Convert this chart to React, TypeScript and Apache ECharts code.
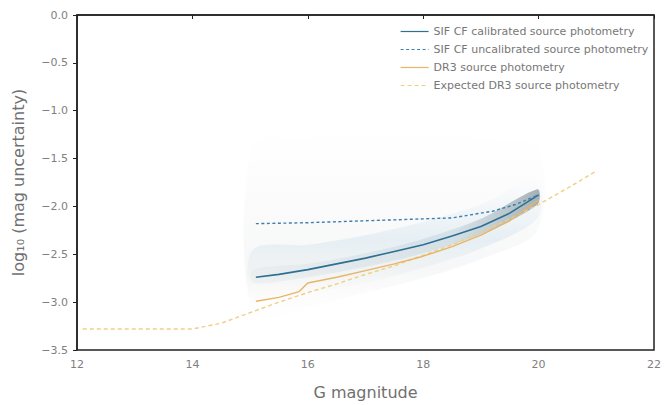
import React, { useEffect, useRef } from "react";
import * as echarts from "echarts";

// ---- data ----
const calibratedX = [15.1, 15.5, 16, 16.5, 17, 17.5, 18, 18.5, 19, 19.5, 20];
const calibratedY = [-2.74, -2.71, -2.66, -2.6, -2.54, -2.47, -2.4, -2.31, -2.21, -2.07, -1.88];

const uncalibratedX = [15.1, 16, 17, 18, 18.5, 18.8, 19.2, 19.6, 20];
const uncalibratedY = [-2.18, -2.17, -2.15, -2.13, -2.12, -2.09, -2.05, -1.98, -1.88];

const dr3X = [15.1, 15.5, 15.85, 16.0, 16.5, 17, 17.5, 18, 18.5, 19, 19.5, 20];
const dr3Y = [-2.99, -2.95, -2.89, -2.8, -2.74, -2.67, -2.6, -2.52, -2.42, -2.3, -2.15, -1.93];

const expectedX = [12.1, 12.5, 13, 13.5, 14, 14.5, 15, 15.5, 16, 16.5, 17, 17.5, 18, 18.5, 19, 19.5, 20, 20.5, 21];
const expectedY = [-3.28, -3.28, -3.28, -3.28, -3.28, -3.22, -3.11, -3.0, -2.9, -2.81, -2.71, -2.62, -2.51, -2.4, -2.27, -2.13, -1.98, -1.81, -1.63];

// density shading bands (upper / lower envelopes)
const bandX = [15.05, 16, 17, 18, 19, 19.98];
const hazeUpper = [-1.35, -1.28, -1.22, -1.22, -1.28, -1.38];
const hazeLower = [-3.15, -3.05, -2.9, -2.75, -2.55, -2.25];
const glowUpper = [-2.45, -2.4, -2.3, -2.16, -1.98, -1.7];
const glowLower = [-2.98, -2.9, -2.8, -2.64, -2.44, -2.12];
const coreUpper = [-2.66, -2.6, -2.49, -2.34, -2.13, -1.82];
const coreLower = [-2.8, -2.74, -2.63, -2.49, -2.29, -1.98];

const seriesNames = [
  "SIF CF calibrated source photometry",
  "SIF CF uncalibrated source photometry",
  "DR3 source photometry",
  "Expected DR3 source photometry",
];

const xTicks = [12, 14, 16, 18, 20, 22];

const zip = (xs: number[], ys: number[]) => xs.map((x, i) => [x, ys[i]]);

const FONT = "DejaVu Sans, Liberation Sans, sans-serif";

export default function App() {
  const ref = useRef<HTMLDivElement>(null);
  useEffect(() => {
    if (!ref.current) return;
    const chart = echarts.init(ref.current, undefined, { renderer: "svg" });

    const bands = [
      {
        upper: hazeUpper,
        lower: hazeLower,
        fill: {
          type: "linear", x: 0, y: 0, x2: 0, y2: 1,
          colorStops: [
            { offset: 0, color: "rgba(200,203,206,0.0)" },
            { offset: 0.4, color: "rgba(200,203,206,0.08)" },
            { offset: 0.72, color: "rgba(190,198,205,0.14)" },
            { offset: 1, color: "rgba(220,215,205,0.0)" },
          ],
        },
      },
      {
        upper: glowUpper,
        lower: glowLower,
        fill: {
          type: "linear", x: 0, y: 0, x2: 0, y2: 1,
          colorStops: [
            { offset: 0, color: "rgba(180,210,228,0.0)" },
            { offset: 0.5, color: "rgba(165,203,225,0.22)" },
            { offset: 1, color: "rgba(225,215,185,0.0)" },
          ],
        },
      },
      {
        upper: coreUpper,
        lower: coreLower,
        fill: {
          type: "linear", x: 0, y: 0, x2: 1, y2: 0,
          colorStops: [
            { offset: 0, color: "rgba(140,175,195,0.08)" },
            { offset: 0.7, color: "rgba(110,145,160,0.16)" },
            { offset: 1, color: "rgba(60,85,95,0.45)" },
          ],
        },
      },
    ];

    const option: any = {
      animation: false,
      backgroundColor: "#ffffff",
      textStyle: { fontFamily: FONT },
      grid: {
        left: 77,
        right: 7,
        top: 15,
        bottom: 53,
        show: true,
        borderColor: "#222",
        borderWidth: 1.5,
        backgroundColor: "transparent",
      },
      legend: {
        orient: "vertical",
        left: 395,
        top: 20,
        itemWidth: 28,
        itemHeight: 10,
        itemGap: 5,
        data: seriesNames,
        itemStyle: { opacity: 0 },
        lineStyle: { width: 1.2 },
        textStyle: {
          fontSize: 11,
          lineHeight: 13,
          color: "#777",
          fontFamily: FONT,
          padding: [0, 0, 0, 0],
        },
      },
      xAxis: {
        type: "value",
        min: 12,
        max: 22,
        interval: 2,
        name: "G magnitude",
        nameLocation: "middle",
        nameGap: 34,
        nameTextStyle: { fontSize: 16, color: "#707070", fontFamily: FONT },
        axisLine: { show: true, lineStyle: { color: "#222", width: 1.5 } },
        axisTick: { show: true, length: 4, lineStyle: { color: "#222" } },
        axisLabel: {
          fontSize: 11,
          color: "#808080",
          margin: 9,
          formatter: (v: number) => (xTicks.includes(v) ? String(v) : ""),
        },
        splitLine: { show: false },
      },
      yAxis: {
        type: "value",
        min: -3.5,
        max: 0,
        interval: 0.5,
        name: "log\u2081\u2080 (mag uncertainty)",
        nameLocation: "middle",
        nameGap: 51,
        nameTextStyle: { fontSize: 16, color: "#707070", fontFamily: FONT },
        axisLine: { show: true, lineStyle: { color: "#222", width: 1.5 } },
        axisTick: { show: true, length: 4, lineStyle: { color: "#222" } },
        axisLabel: {
          fontSize: 11,
          color: "#808080",
          margin: 9,
          formatter: (v: number) => v.toFixed(1).replace("-", "\u2212"),
        },
        splitLine: { show: false },
      },
      series: [
        {
          type: "custom",
          name: "density",
          silent: true,
          z: 1,
          data: bands.map((_, i) => [15 + i, -2]),
          renderItem: (params: any, api: any) => {
            const b = bands[params.dataIndex];
            const pts: number[][] = [];
            for (let i = 0; i < bandX.length; i++) pts.push(api.coord([bandX[i], b.upper[i]]));
            for (let i = bandX.length - 1; i >= 0; i--) pts.push(api.coord([bandX[i], b.lower[i]]));
            return {
              type: "polygon",
              shape: { points: pts, smooth: 0.3 },
              style: { fill: b.fill },
            };
          },
        },
        {
          name: seriesNames[0],
          type: "line",
          data: zip(calibratedX, calibratedY),
          showSymbol: false,
          symbol: "none",
          z: 5,
          lineStyle: { color: "#2f6f92", width: 1.6 },
          itemStyle: { color: "#2f6f92" },
        },
        {
          name: seriesNames[1],
          type: "line",
          data: zip(uncalibratedX, uncalibratedY),
          showSymbol: false,
          symbol: "none",
          z: 5,
          lineStyle: { color: "#3f7fae", width: 1.4, type: [3, 2.5] },
          itemStyle: { color: "#3f7fae" },
        },
        {
          name: seriesNames[2],
          type: "line",
          data: zip(dr3X, dr3Y),
          showSymbol: false,
          symbol: "none",
          z: 4,
          lineStyle: { color: "#e8b565", width: 1.4 },
          itemStyle: { color: "#e8b565" },
        },
        {
          name: seriesNames[3],
          type: "line",
          data: zip(expectedX, expectedY),
          showSymbol: false,
          symbol: "none",
          z: 3,
          lineStyle: { color: "#f0cf85", width: 1.4, type: [4, 3] },
          itemStyle: { color: "#f0cf85" },
        },
      ],
    };
    chart.setOption(option);
    return () => chart.dispose();
  }, []);

  return (
    <div
      ref={ref}
      style={{ width: 664, height: 405, position: "absolute", left: 0, top: 0 }}
    />
  );
}
